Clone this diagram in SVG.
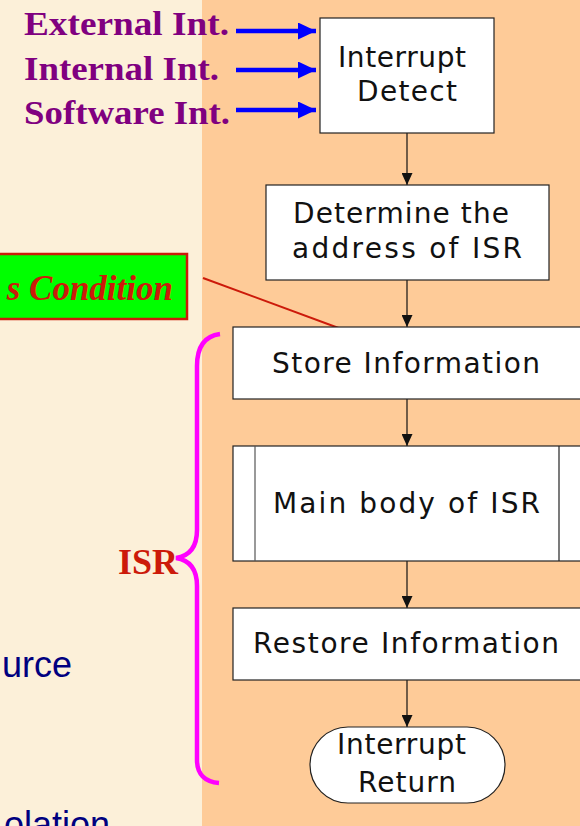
<svg xmlns="http://www.w3.org/2000/svg" width="580" height="826" viewBox="0 0 580 826">
<style>
.box{fill:#fff;stroke:#222;stroke-width:1.2}
.ft{font-family:"DejaVu Sans","Liberation Sans",Arial,sans-serif;font-size:28px;fill:#111}
.src{font-family:"Liberation Serif","Times New Roman",serif;font-weight:bold;font-size:34px;fill:#800080}
.conn{stroke:#111;stroke-width:1.2;fill:none}
.blue{stroke:#0000ff;stroke-width:4.5;fill:none}
.side{font-family:"Liberation Sans",Arial,sans-serif;font-size:36px;fill:#000080}
</style>
<defs>
<marker id="ah" markerWidth="12" markerHeight="11" refX="12" refY="5.5" orient="auto" markerUnits="userSpaceOnUse">
<path d="M0,0 L12,5.5 L0,11 Z" fill="#111"/>
</marker>
<marker id="bh" markerWidth="18" markerHeight="17" refX="18" refY="8.5" orient="auto" markerUnits="userSpaceOnUse">
<path d="M0,0 L18,8.5 L0,17 Z" fill="#0000ff"/>
</marker>
</defs>
<rect x="0" y="0" width="202" height="826" fill="#fcf0d9"/>
<rect x="202" y="0" width="378" height="826" fill="#fecb98"/>

<g id="side-text">
<text class="side" x="72" y="677" text-anchor="end">urce</text>
<text class="side" x="110" y="837" text-anchor="end">olation</text>
</g>

<g id="sources">
<text class="src" x="24" y="35" textLength="205" lengthAdjust="spacingAndGlyphs">External Int.</text>
<text class="src" x="24" y="80" textLength="195" lengthAdjust="spacingAndGlyphs">Internal Int.</text>
<text class="src" x="24" y="124" textLength="206" lengthAdjust="spacingAndGlyphs">Software Int.</text>
</g>

<g id="condition">
<rect x="-3" y="254" width="190" height="65" fill="#00ff00" stroke="#cc1a0a" stroke-width="2.5"/>
<text x="173" y="300" text-anchor="end" font-family="'Liberation Serif','Times New Roman',serif" font-weight="bold" font-style="italic" font-size="35" fill="#cc1a0a">s Condition</text>
</g>

<g id="isr-label">
<text x="118" y="574" font-family="'Liberation Serif','Times New Roman',serif" font-weight="bold" font-size="36" fill="#cc1a0a">ISR</text>
<path d="M220,334 C205,336 197,346 197,366 L197,530 C197,548 189,556 176,558 C189,560 197,568 197,586 L197,760 C197,774 205,782 219,783" fill="none" stroke="#ff00ff" stroke-width="4.5"/>
</g>

<g id="connectors">
<line class="blue" x1="236" y1="31" x2="316" y2="31" marker-end="url(#bh)"/>
<line class="blue" x1="236" y1="70" x2="316" y2="70" marker-end="url(#bh)"/>
<line class="blue" x1="236" y1="110" x2="316" y2="110" marker-end="url(#bh)"/>
<line class="conn" x1="407" y1="133" x2="407" y2="185" marker-end="url(#ah)"/>
<line class="conn" x1="407" y1="280" x2="407" y2="327" marker-end="url(#ah)"/>
<line class="conn" x1="407" y1="399" x2="407" y2="446" marker-end="url(#ah)"/>
<line class="conn" x1="407" y1="561" x2="407" y2="608" marker-end="url(#ah)"/>
<line class="conn" x1="407" y1="680" x2="407" y2="727" marker-end="url(#ah)"/>
<line x1="203" y1="278" x2="344" y2="330" stroke="#cc1a0a" stroke-width="2"/>
</g>

<g id="detect">
<rect class="box" x="320" y="18" width="174" height="115"/>
<text class="ft" x="338" y="67" textLength="128" lengthAdjust="spacing">Interrupt</text>
<text class="ft" x="357" y="101" textLength="100" lengthAdjust="spacing">Detect</text>
</g>

<g id="determine">
<rect class="box" x="266" y="185" width="283" height="95"/>
<text class="ft" x="293" y="223" textLength="216" lengthAdjust="spacing">Determine the</text>
<text class="ft" x="292" y="258" textLength="230" lengthAdjust="spacing">address of ISR</text>
</g>

<g id="store">
<rect class="box" x="233" y="327" width="360" height="72"/>
<text class="ft" x="272" y="373" textLength="268" lengthAdjust="spacing">Store Information</text>
</g>

<g id="main-body">
<rect class="box" x="233" y="446" width="360" height="115"/>
<line x1="255" y1="446" x2="255" y2="561" stroke="#555" stroke-width="1.2"/>
<line x1="559" y1="446" x2="559" y2="561" stroke="#222" stroke-width="1.2"/>
<text class="ft" x="273" y="513" textLength="267" lengthAdjust="spacing">Main body of ISR</text>
</g>

<g id="restore">
<rect class="box" x="233" y="608" width="360" height="72"/>
<text class="ft" x="253" y="653" textLength="306" lengthAdjust="spacing">Restore Information</text>
</g>

<g id="return">
<rect class="box" x="310" y="727" width="195" height="76" rx="38" ry="38"/>
<text class="ft" x="337" y="754" textLength="129" lengthAdjust="spacing">Interrupt</text>
<text class="ft" x="358" y="792" textLength="98" lengthAdjust="spacing">Return</text>
</g>
</svg>
